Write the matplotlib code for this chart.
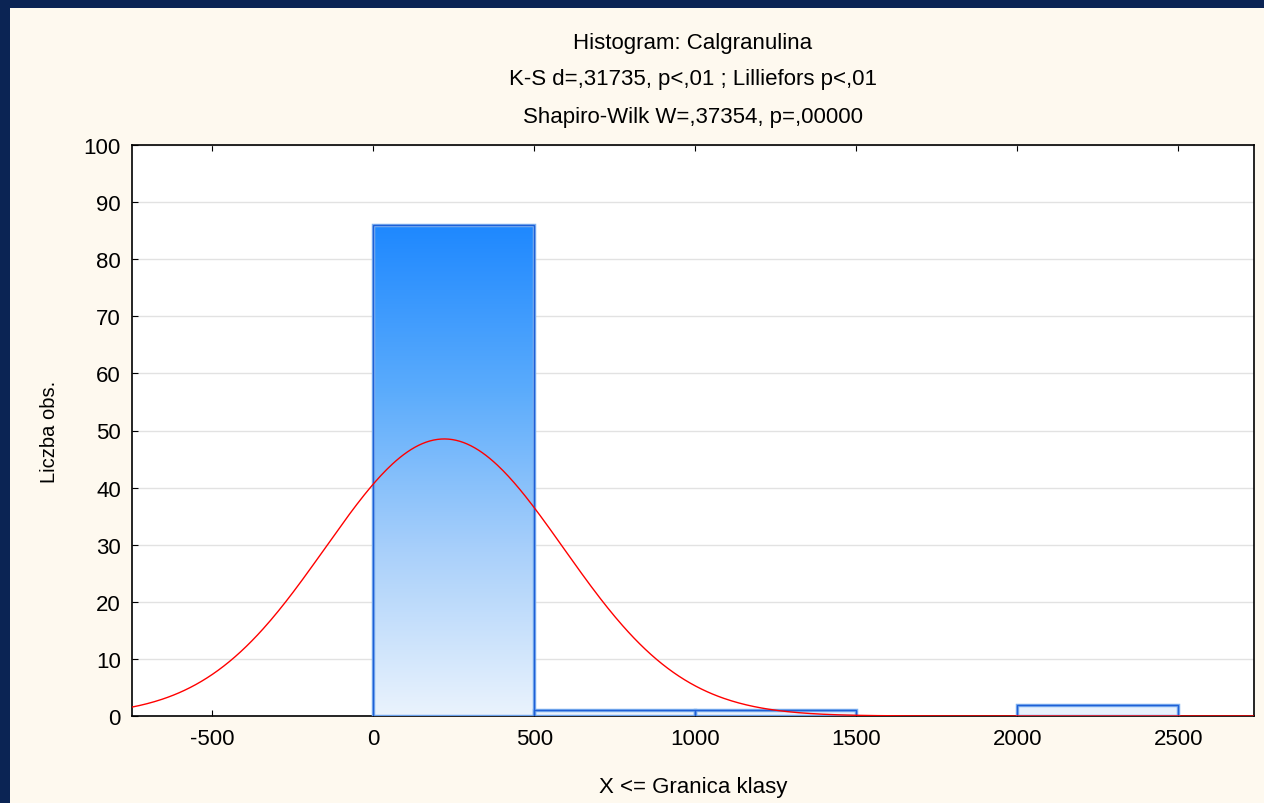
import matplotlib.pyplot as plt
from matplotlib.patches import Rectangle
from matplotlib.colors import LinearSegmentedColormap
import numpy as np

plt.rcParams['font.family'] = ['Liberation Sans', 'DejaVu Sans']
plt.rcParams['axes.unicode_minus'] = False

# class edges and counts
bin_left = [0, 500, 1000, 1500, 2000]
bin_right = [500, 1000, 1500, 2000, 2500]
counts = [86, 1, 1, 0, 2]

# fitted normal curve parameters
n_obs = 90
mean_val = 220
sd_val = 370
bin_width = 500

x_ticks = [-500, 0, 500, 1000, 1500, 2000, 2500]
y_ticks = [0, 10, 20, 30, 40, 50, 60, 70, 80, 90, 100]

title_lines = ['Histogram: Calgranulina',
               'K-S d=,31735, p<,01 ; Lilliefors p<,01',
               'Shapiro-Wilk W=,37354, p=,00000']

W, H = 1264, 804
fig = plt.figure(figsize=(W / 100, H / 100), dpi=100, facecolor='#0B2454')
# cream panel inside navy frame (left and top)
fig.patches.append(Rectangle((10 / W, 0), 1 - 10 / W, 1 - 9 / H,
                             transform=fig.transFigure, facecolor='#FEF9EF',
                             edgecolor='none', zorder=-1))

ax = fig.add_axes([132 / W, 1 - 717 / H, (1254 - 132) / W, (717 - 146) / H])
ax.set_facecolor('white')
ax.set_xlim(-750, 2735)
ax.set_ylim(0, 100)

ax.set_yticks(y_ticks)
ax.set_xticks(x_ticks)
ax.grid(axis='y', color='#E2E2E2', lw=1)
ax.set_axisbelow(True)
ax.tick_params(direction='in', length=4, top=True, right=False,
               labelsize=16, colors='black')
ax.tick_params(axis='x', pad=9)
ax.tick_params(axis='y', pad=8)
for s in ax.spines.values():
    s.set_linewidth(1.2)

# gradient bars
cmap = LinearSegmentedColormap.from_list('bars', ['#EAF3FD', '#A9D0FA', '#5AABFC', '#1E88FF'])
grad = np.linspace(0, 1, 256).reshape(-1, 1)
top = max(counts)
for l, r, c in zip(bin_left, bin_right, counts):
    if c <= 0:
        continue
    img = ax.imshow(grad, extent=[l, r, 0, top], origin='lower', cmap=cmap,
                    aspect='auto', zorder=2)
    rect = Rectangle((l, 0), r - l, c, facecolor='none', edgecolor='#7FB2F0',
                     lw=2.5, zorder=3)
    ax.add_patch(rect)
    img.set_clip_path(rect)
    ax.add_patch(Rectangle((l, 0), r - l, c, facecolor='none',
                           edgecolor='#1F5FD6', lw=1, zorder=4))

# normal curve
xs = np.linspace(-750, 2735, 600)
ys = n_obs * bin_width / (sd_val * np.sqrt(2 * np.pi)) * np.exp(-(xs - mean_val) ** 2 / (2 * sd_val ** 2))
ax.plot(xs, ys, color='#FF0000', lw=1, zorder=5)

ax.set_xlabel('X <= Granica klasy', fontsize=16, labelpad=19)
ax.set_ylabel('Liczba obs.', fontsize=14.5, labelpad=18)

cx = (132 + 1254) / 2 / W
for txt, yy in zip(title_lines, [44, 80, 117]):
    fig.text(cx, 1 - yy / H, txt, ha='center', va='center', fontsize=16)

fig.savefig('out.png', dpi=100, facecolor=fig.get_facecolor())
